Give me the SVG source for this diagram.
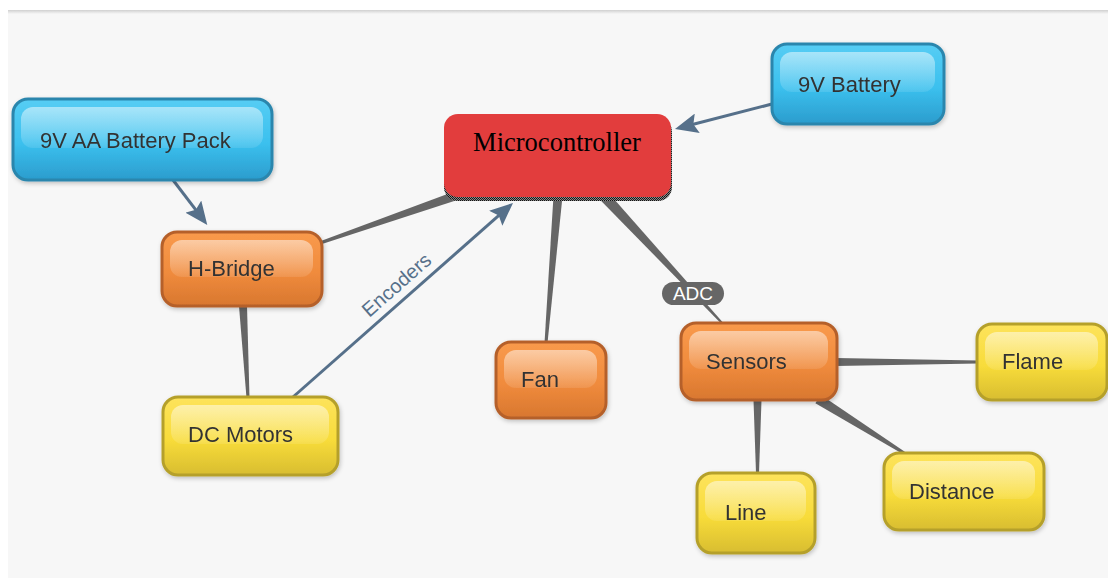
<svg xmlns="http://www.w3.org/2000/svg" width="1108" height="578" viewBox="0 0 1108 578">
<style>
  .lbl{font-family:"Liberation Sans",Arial,sans-serif;font-size:22px;fill:#333}
  .body{stroke-width:3}
  .blue .body{fill:url(#gBlue);stroke:#2b86ad}
  .orange .body{fill:url(#gOrange);stroke:#b5602a}
  .yellow .body{fill:url(#gYellow);stroke:#b5a02b}
  .gloss{fill:url(#gGloss)}
  .node{filter:url(#shadow)}
  .taper{fill:#666}
  .arrow{stroke:#56708a;stroke-width:3;fill:none;marker-end:url(#ah)}
</style>
<defs>
  <linearGradient id="gBlue" x1="0" y1="0" x2="0" y2="1">
    <stop offset="0" stop-color="#56cdf4"/><stop offset="0.55" stop-color="#3bc0ee"/><stop offset="1" stop-color="#2b9ccd"/>
  </linearGradient>
  <linearGradient id="gOrange" x1="0" y1="0" x2="0" y2="1">
    <stop offset="0" stop-color="#f99a4c"/><stop offset="0.55" stop-color="#f08b3d"/><stop offset="1" stop-color="#d8772f"/>
  </linearGradient>
  <linearGradient id="gYellow" x1="0" y1="0" x2="0" y2="1">
    <stop offset="0" stop-color="#fde35c"/><stop offset="0.55" stop-color="#f8dc3a"/><stop offset="1" stop-color="#d8bd30"/>
  </linearGradient>
  <linearGradient id="gGloss" x1="0" y1="0" x2="0" y2="1">
    <stop offset="0" stop-color="#fff" stop-opacity="0.5"/><stop offset="1" stop-color="#fff" stop-opacity="0.1"/>
  </linearGradient>
  <linearGradient id="gTop" x1="0" y1="0" x2="0" y2="1">
    <stop offset="0" stop-color="#d0d0d0"/><stop offset="1" stop-color="#f7f7f7"/>
  </linearGradient>
  <pattern id="stipple" width="2" height="2" patternUnits="userSpaceOnUse">
    <rect width="2" height="2" fill="#888"/><rect width="1" height="1" fill="#111"/><rect x="1" y="1" width="1" height="1" fill="#222"/>
  </pattern>
  <filter id="shadow" x="-10%" y="-10%" width="125%" height="130%">
    <feDropShadow dx="1" dy="2" stdDeviation="2" flood-color="#000" flood-opacity="0.22"/>
  </filter>
  <marker id="ah" viewBox="0 0 23 20" refX="11" refY="10" markerWidth="23" markerHeight="20" markerUnits="userSpaceOnUse" orient="auto">
    <path d="M0,0 L23,10 L0,20 L4,10 z" fill="#56708a"/>
  </marker>
</defs>

<rect x="0" y="0" width="1108" height="578" fill="#fff"/>
<rect x="8" y="10" width="1100" height="568" fill="#f7f7f7"/>
<rect x="8" y="10" width="1100" height="4" fill="url(#gTop)"/>

<g id="connectors">
  <polygon class="taper" points="453.5,191.8 456.5,200.3 320.5,244.4 319.5,241.6"/>
  <polygon class="taper" points="553.5,195.6 562.5,196.4 547.5,343.1 544.5,342.9"/>
  <polygon class="taper" points="600,199.7 608,192.3 722.7,322.3 721.3,323.7"/>
  <polygon class="taper" points="239,306.2 247,305.8 249.5,397.9 246.5,398.1"/>
  <polygon class="taper" points="836,358 836,366 978,363.5 978,360.5"/>
  <polygon class="taper" points="753.5,400 761.5,400 759,473 756,473"/>
  <polygon class="taper" points="815.4,403.2 820.6,394.8 904.8,451.7 903.2,454.3"/>
  <path class="arrow" d="M173,180 L200,215.4"/>
  <path class="arrow" d="M772,104 L686.6,126"/>
  <path class="arrow" d="M293,397 L504,210.9"/>
  <text transform="translate(401,290) rotate(-41.4)" text-anchor="middle" font-family="Liberation Sans, Arial, sans-serif" font-size="20" fill="#56708a">Encoders</text>
  <g id="adc-label">
    <rect x="662" y="282" width="62" height="23" rx="11.5" fill="#666"/>
    <text x="693" y="299.5" text-anchor="middle" font-family="Liberation Sans, Arial, sans-serif" font-size="19" fill="#fff">ADC</text>
  </g>
</g>

<g id="n-pack" class="node blue">
  <rect class="body" x="13" y="99" width="259" height="81" rx="15"/>
  <rect class="gloss" x="21" y="107" width="242" height="41" rx="12"/>
  <text class="lbl" x="40" y="148">9V AA Battery Pack</text>
</g>
<g id="n-battery" class="node blue">
  <rect class="body" x="772" y="44" width="172" height="80" rx="15"/>
  <rect class="gloss" x="780" y="52" width="155" height="40" rx="12"/>
  <text class="lbl" x="798" y="92">9V Battery</text>
</g>
<g id="n-micro">
  <rect x="444" y="118" width="228" height="83" rx="14" fill="url(#stipple)"/>
  <rect x="444" y="114" width="227" height="83" rx="14" fill="#e23d3d"/>
  <text x="557" y="151" text-anchor="middle" font-family="Liberation Serif, 'Times New Roman', serif" font-size="26.5" fill="#000">Microcontroller</text>
</g>
<g id="n-hbridge" class="node orange">
  <rect class="body" x="162" y="232" width="160" height="74" rx="15"/>
  <rect class="gloss" x="170" y="240" width="143" height="37" rx="12"/>
  <text class="lbl" x="188" y="276">H-Bridge</text>
</g>
<g id="n-dcmotors" class="node yellow">
  <rect class="body" x="163" y="397" width="175" height="78" rx="15"/>
  <rect class="gloss" x="171" y="405" width="158" height="39" rx="12"/>
  <text class="lbl" x="188" y="442">DC Motors</text>
</g>
<g id="n-fan" class="node orange">
  <rect class="body" x="496" y="342" width="110" height="76" rx="15"/>
  <rect class="gloss" x="504" y="350" width="93" height="38" rx="12"/>
  <text class="lbl" x="521" y="387">Fan</text>
</g>
<g id="n-sensors" class="node orange">
  <rect class="body" x="681" y="323" width="156" height="77" rx="15"/>
  <rect class="gloss" x="689" y="331" width="139" height="38" rx="12"/>
  <text class="lbl" x="706" y="369">Sensors</text>
</g>
<g id="n-flame" class="node yellow">
  <rect class="body" x="977" y="324" width="130" height="76" rx="15"/>
  <rect class="gloss" x="985" y="332" width="113" height="38" rx="12"/>
  <text class="lbl" x="1002" y="369">Flame</text>
</g>
<g id="n-distance" class="node yellow">
  <rect class="body" x="884" y="453" width="160" height="77" rx="15"/>
  <rect class="gloss" x="892" y="461" width="143" height="38" rx="12"/>
  <text class="lbl" x="909" y="499">Distance</text>
</g>
<g id="n-line" class="node yellow">
  <rect class="body" x="697" y="473" width="118" height="80" rx="15"/>
  <rect class="gloss" x="705" y="481" width="101" height="40" rx="12"/>
  <text class="lbl" x="725" y="520">Line</text>
</g>
</svg>
